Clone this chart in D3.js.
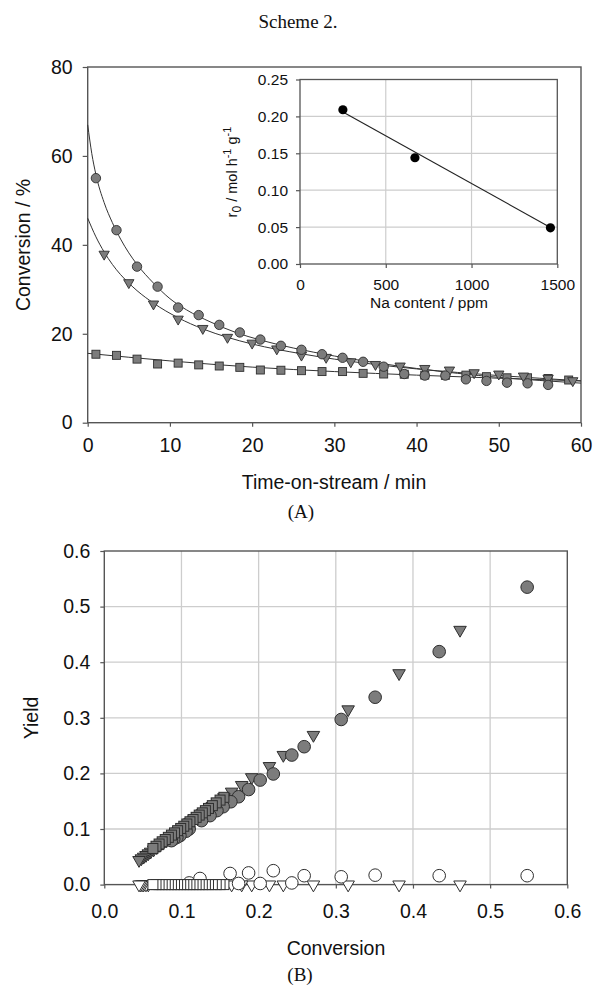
<!DOCTYPE html>
<html><head><meta charset="utf-8">
<script src="https://cdn.jsdelivr.net/npm/d3@7"></script>
<style>body{margin:0;background:#fff;} svg{display:block;}</style>
</head><body>
<script>
// ---------- Panel A data ----------
const timeCircle   = [1,3.5,6,8.5,11,13.5,16,18.5,21,23.5,26,28.5,31,33.5,36,38.5,41,43.5,46,48.5,51,53.5,56];
const convCircle   = [55.0,43.3,35.1,30.6,25.9,24.2,22.0,20.3,18.7,17.3,16.4,15.4,14.6,13.7,12.6,10.95,10.6,10.6,9.75,9.4,9.0,8.85,8.5];
const timeTriangle = [2,5,8,11,14,17,20,23,26,29,32,35,38,41,44,47,50,53,56,59];
const convTriangle = [37.9,31.5,26.7,23.3,21.2,19.2,17.9,16.6,15.2,14.7,13.7,13.1,12.75,12.2,11.85,11.25,10.95,10.5,10.0,9.45];
const timeSquare   = [1,3.5,6,8.5,11,13.5,16,18.5,21,23.5,26,28.5,31,33.5,36,38.5,41,43.5,46,48.5,51,53.5,56,58.5];
const convSquare   = [15.4,15.15,14.3,13.2,13.4,13.0,12.75,12.45,11.85,11.8,11.7,11.5,11.5,11.1,10.95,10.9,10.7,10.65,10.7,10.35,10.1,10.1,9.95,9.6];
// fitted curves
const fitTimeCircle   = [0,0.5,1,2,3,4,5,6,8,10,12,15,18,21,25,30,35,40,45,50,55,60];
const fitConvCircle   = [67,60.5,55.8,49.5,45,41.3,38.2,35.6,31.4,27.9,25.4,22.6,20.3,18.6,16.8,15.0,13.5,12.2,11.1,10.2,9.5,8.9];
const fitTimeTriangle = [0,1,2,3,4,5,6,8,11,14,17,20,23,26,30,35,40,45,50,55,60];
const fitConvTriangle = [46,41.8,38.4,35.6,33.3,31.4,29.7,26.9,23.6,21.1,19.2,17.7,16.5,15.5,14.3,13.1,12.1,11.3,10.6,10.0,9.4];
const fitTimeSquare   = [0,10,20,30,40,50,60];
const fitConvSquare   = [15.6,13.9,12.5,11.5,10.7,10.0,9.4];
const xTicksA = [0,10,20,30,40,50,60];
const yTicksA = [0,20,40,60,80];
// ---------- Inset data ----------
const naContent = [250,670,1460];
const r0Values  = [0.209,0.144,0.049];
const fitNa     = [245,1460];
const fitR0     = [0.2065,0.0495];
const xTicksInset = [0,500,1000,1500];
const yTicksInset = [0,0.05,0.10,0.15,0.20,0.25];
// ---------- Panel B data ----------
const convCircleB  = [0.548,0.434,0.351,0.307,0.259,0.243,0.219,0.202,0.187,0.174,0.164,0.154,0.146,0.137,0.126,0.110,0.106,0.098,0.094,0.090,0.087];
const yieldCircleB = [0.535,0.419,0.337,0.297,0.248,0.233,0.199,0.188,0.171,0.158,0.149,0.140,0.133,0.124,0.115,0.100,0.096,0.088,0.085,0.082,0.079];
const convCircleOpenB  = [0.548,0.434,0.351,0.307,0.259,0.243,0.219,0.202,0.187,0.174,0.163,0.124,0.110];
const yieldCircleOpenB = [0.016,0.016,0.017,0.014,0.016,0.003,0.025,0.002,0.021,0.002,0.020,0.011,0.003];
const convTriangleB  = [0.461,0.382,0.316,0.271,0.232,0.214,0.191,0.178,0.165,0.155,0.147,0.140,0.133,0.127,0.121,0.116,0.111,0.106,0.101,0.096,0.092,0.088,0.084,0.080,0.076,0.072,0.068,0.064,0.060,0.057,0.054,0.051,0.048,0.045];
const yieldTriangleB = [0.458,0.380,0.315,0.269,0.233,0.213,0.193,0.179,0.167,0.157,0.148,0.141,0.134,0.128,0.122,0.117,0.112,0.106,0.101,0.096,0.092,0.087,0.083,0.079,0.075,0.071,0.067,0.063,0.059,0.056,0.053,0.050,0.047,0.044];
const convTriangleOpenB  = [0.461,0.382,0.316,0.271,0.232,0.214,0.191,0.178,0.165,0.057,0.054,0.051,0.049,0.047,0.045];
const yieldTriangleOpenB = [0,0,0,0,0,0,0,0,0,0,0,0,0,0,0];
const convSquareB  = [0.155,0.150,0.145,0.140,0.135,0.131,0.127,0.123,0.119,0.115,0.111,0.107,0.103,0.099,0.095,0.091,0.087,0.083,0.079,0.075,0.071,0.067,0.063];
const yieldSquareB = [0.157,0.152,0.147,0.142,0.137,0.133,0.129,0.125,0.121,0.117,0.113,0.109,0.105,0.101,0.097,0.093,0.089,0.085,0.081,0.077,0.073,0.069,0.065];
const convSquareOpenB  = [0.155,0.150,0.145,0.140,0.135,0.131,0.127,0.123,0.119,0.115,0.111,0.107,0.103,0.099,0.095,0.091,0.087,0.083,0.079,0.075,0.071,0.067,0.063];
const yieldSquareOpenB = [0,0,0,0,0,0,0,0,0,0,0,0,0,0,0,0,0,0,0,0,0,0,0];
const ticksB = [0,0.1,0.2,0.3,0.4,0.5,0.6];

// ---------- drawing ----------
const W=595,H=986;
const SANS="'Liberation Sans', Arial, Helvetica, sans-serif";
const SERIF="'Liberation Serif', 'Times New Roman', serif";
const FRAME="#555", GRID="#cdcdcd", FILL="#7c7c7c", EDGE="#2e2e2e";
const svg=d3.select("body").append("svg").attr("width",W).attr("height",H);

function txt(x,y,s,size,family,anchor,rot){
  const t=svg.append("text").attr("x",x).attr("y",y).attr("text-anchor",anchor||"middle")
    .style("font-family",family||SANS).style("font-size",size+"px").attr("fill","#111").text(s);
  if(rot) t.attr("transform",`rotate(${rot},${x},${y})`);
  return t;
}
function styleAxis(g,size){
  g.select(".domain").remove();
  g.selectAll(".tick line").attr("stroke",FRAME).attr("stroke-width",1.2);
  g.selectAll(".tick text").style("font-family",SANS).style("font-size",size+"px").attr("fill","#111");
}
const zip=(a,b)=>a.map((v,i)=>[v,b[i]]);

txt(298,28,"Scheme 2.",19,SERIF);

// ===== Panel A =====
const xA=d3.scaleLinear([0,60],[87.7,581]);
const yA=d3.scaleLinear([0,80],[422.7,67]);
const gA=svg.append("g");
gA.append("g").attr("transform",`translate(0,${yA(0)})`)
  .call(d3.axisBottom(xA).tickValues(xTicksA).tickSize(4).tickPadding(11).tickFormat(d3.format("d")))
  .call(g=>styleAxis(g,19.5));
gA.append("g").attr("transform",`translate(${xA(0)},0)`)
  .call(d3.axisLeft(yA).tickValues(yTicksA).tickSize(5).tickPadding(10).tickFormat(d3.format("d")))
  .call(g=>styleAxis(g,19.5));
gA.append("rect").attr("x",xA(0)).attr("y",yA(80)).attr("width",xA(60)-xA(0)).attr("height",yA(0)-yA(80))
  .attr("fill","none").attr("stroke",FRAME).attr("stroke-width",1.4);

const lineA=d3.line().x(d=>xA(d[0])).y(d=>yA(d[1])).curve(d3.curveMonotoneX);
[[fitTimeCircle,fitConvCircle],[fitTimeTriangle,fitConvTriangle],[fitTimeSquare,fitConvSquare]].forEach(([t,c])=>{
  gA.append("path").attr("d",lineA(zip(t,c))).attr("fill","none").attr("stroke","#333").attr("stroke-width",1);
});
const triA=d3.symbol(d3.symbolTriangle,46)();
const triB=d3.symbol(d3.symbolTriangle,68)();
gA.selectAll(".sqA").data(zip(timeSquare,convSquare)).join("rect")
  .attr("x",d=>xA(d[0])-4).attr("y",d=>yA(d[1])-4).attr("width",8).attr("height",8)
  .attr("fill",FILL).attr("stroke",EDGE).attr("stroke-width",0.9);
gA.selectAll(".trA").data(zip(timeTriangle,convTriangle)).join("path").attr("d",triA)
  .attr("transform",d=>`translate(${xA(d[0])},${yA(d[1])}) rotate(180)`)
  .attr("fill",FILL).attr("stroke",EDGE).attr("stroke-width",0.9);
gA.selectAll(".ciA").data(zip(timeCircle,convCircle)).join("circle")
  .attr("cx",d=>xA(d[0])).attr("cy",d=>yA(d[1])).attr("r",4.7)
  .attr("fill",FILL).attr("stroke",EDGE).attr("stroke-width",0.9);

txt(334,489,"Time-on-stream / min",19.5);
txt(30,245,"Conversion / %",19.5,SANS,"middle",-90);
txt(301,518,"(A)",19,SERIF);

// ===== Inset =====
const xI=d3.scaleLinear([0,1500],[300,557.3]);
const yI=d3.scaleLinear([0,0.25],[264,79.5]);
const gI=svg.append("g");
gI.selectAll(".gx").data([500,1000]).join("line").attr("x1",d=>xI(d)).attr("x2",d=>xI(d))
  .attr("y1",yI(0)).attr("y2",yI(0.25)).attr("stroke",GRID).attr("stroke-width",1.2);
gI.selectAll(".gy").data([0.05,0.10,0.15,0.20]).join("line").attr("y1",d=>yI(d)).attr("y2",d=>yI(d))
  .attr("x1",xI(0)).attr("x2",xI(1500)).attr("stroke",GRID).attr("stroke-width",1.2);
gI.append("g").attr("transform",`translate(0,${yI(0)})`)
  .call(d3.axisBottom(xI).tickValues(xTicksInset).tickSize(4).tickPadding(11).tickFormat(d3.format("d")))
  .call(g=>styleAxis(g,15.5));
gI.append("g").attr("transform",`translate(${xI(0)},0)`)
  .call(d3.axisLeft(yI).tickValues(yTicksInset).tickSize(4).tickPadding(8).tickFormat(d3.format(".2f")))
  .call(g=>styleAxis(g,15.5));
gI.append("rect").attr("x",xI(0)).attr("y",yI(0.25)).attr("width",xI(1500)-xI(0)).attr("height",yI(0)-yI(0.25))
  .attr("fill","none").attr("stroke",FRAME).attr("stroke-width",1.3);
gI.append("path").attr("d",d3.line().x(d=>xI(d[0])).y(d=>yI(d[1]))(zip(fitNa,fitR0)))
  .attr("stroke","#222").attr("stroke-width",1.1).attr("fill","none");
gI.selectAll(".pI").data(zip(naContent,r0Values)).join("circle")
  .attr("cx",d=>xI(d[0])).attr("cy",d=>yI(d[1])).attr("r",4.6).attr("fill","#000");
txt(429,308,"Na content / ppm",15.5);
{
  const x=237,y=172;
  const t=svg.append("text").attr("x",x).attr("y",y).attr("text-anchor","middle")
    .attr("transform",`rotate(-90,${x},${y})`).style("font-family",SANS).style("font-size","14.5px").attr("fill","#111");
  t.append("tspan").text("r");
  t.append("tspan").attr("dy",4).style("font-size","12px").text("0");
  t.append("tspan").attr("dy",-4).text(" / mol h");
  t.append("tspan").attr("dy",-6).style("font-size","11px").text("-1");
  t.append("tspan").attr("dy",6).text(" g");
  t.append("tspan").attr("dy",-6).style("font-size","11px").text("-1");
}

// ===== Panel B =====
const xB=d3.scaleLinear([0,0.6],[104.3,567.3]);
const yB=d3.scaleLinear([0,0.6],[884.6,551]);
const gB=svg.append("g");
gB.selectAll(".gbx").data(ticksB.slice(1,6)).join("line").attr("x1",d=>xB(d)).attr("x2",d=>xB(d))
  .attr("y1",yB(0)).attr("y2",yB(0.6)).attr("stroke",GRID).attr("stroke-width",1.3);
gB.selectAll(".gby").data(ticksB.slice(1,6)).join("line").attr("y1",d=>yB(d)).attr("y2",d=>yB(d))
  .attr("x1",xB(0)).attr("x2",xB(0.6)).attr("stroke",GRID).attr("stroke-width",1.3);
gB.append("g").attr("transform",`translate(0,${yB(0)})`)
  .call(d3.axisBottom(xB).tickValues(ticksB).tickSize(4).tickPadding(16).tickFormat(d3.format(".1f")))
  .call(g=>styleAxis(g,19.5));
gB.append("g").attr("transform",`translate(${xB(0)},0)`)
  .call(d3.axisLeft(yB).tickValues(ticksB).tickSize(4).tickPadding(10).tickFormat(d3.format(".1f")))
  .call(g=>styleAxis(g,19.5));
gB.append("rect").attr("x",xB(0)).attr("y",yB(0.6)).attr("width",xB(0.6)-xB(0)).attr("height",yB(0)-yB(0.6))
  .attr("fill","none").attr("stroke",FRAME).attr("stroke-width",1.4);

function triangles(cls,cx,cy,fill){
  gB.selectAll("."+cls).data(zip(cx,cy)).join("path").attr("class",cls).attr("d",triB)
    .attr("transform",d=>`translate(${xB(d[0])},${yB(d[1])}) rotate(180)`)
    .attr("fill",fill).attr("stroke",EDGE).attr("stroke-width",1);
}
function circles(cls,cx,cy,fill){
  gB.selectAll("."+cls).data(zip(cx,cy)).join("circle").attr("class",cls)
    .attr("cx",d=>xB(d[0])).attr("cy",d=>yB(d[1])).attr("r",6.3)
    .attr("fill",fill).attr("stroke",EDGE).attr("stroke-width",1);
}
function squares(cls,cx,cy,fill){
  gB.selectAll("."+cls).data(zip(cx,cy)).join("rect").attr("class",cls)
    .attr("x",d=>xB(d[0])-5).attr("y",d=>yB(d[1])-5).attr("width",10).attr("height",10)
    .attr("fill",fill).attr("stroke",EDGE).attr("stroke-width",1);
}
triangles("toB",convTriangleOpenB,yieldTriangleOpenB,"#fff");
circles("coB",convCircleOpenB,yieldCircleOpenB,"#fff");
squares("soB",convSquareOpenB,yieldSquareOpenB,"#fff");
triangles("tfB",convTriangleB,yieldTriangleB,FILL);
circles("cfB",convCircleB,yieldCircleB,FILL);
squares("sfB",convSquareB,yieldSquareB,FILL);

txt(336,955,"Conversion",19.5);
txt(38,718,"Yield",19.5,SANS,"middle",-90);
txt(300,981,"(B)",19,SERIF);
</script>
</body></html>
